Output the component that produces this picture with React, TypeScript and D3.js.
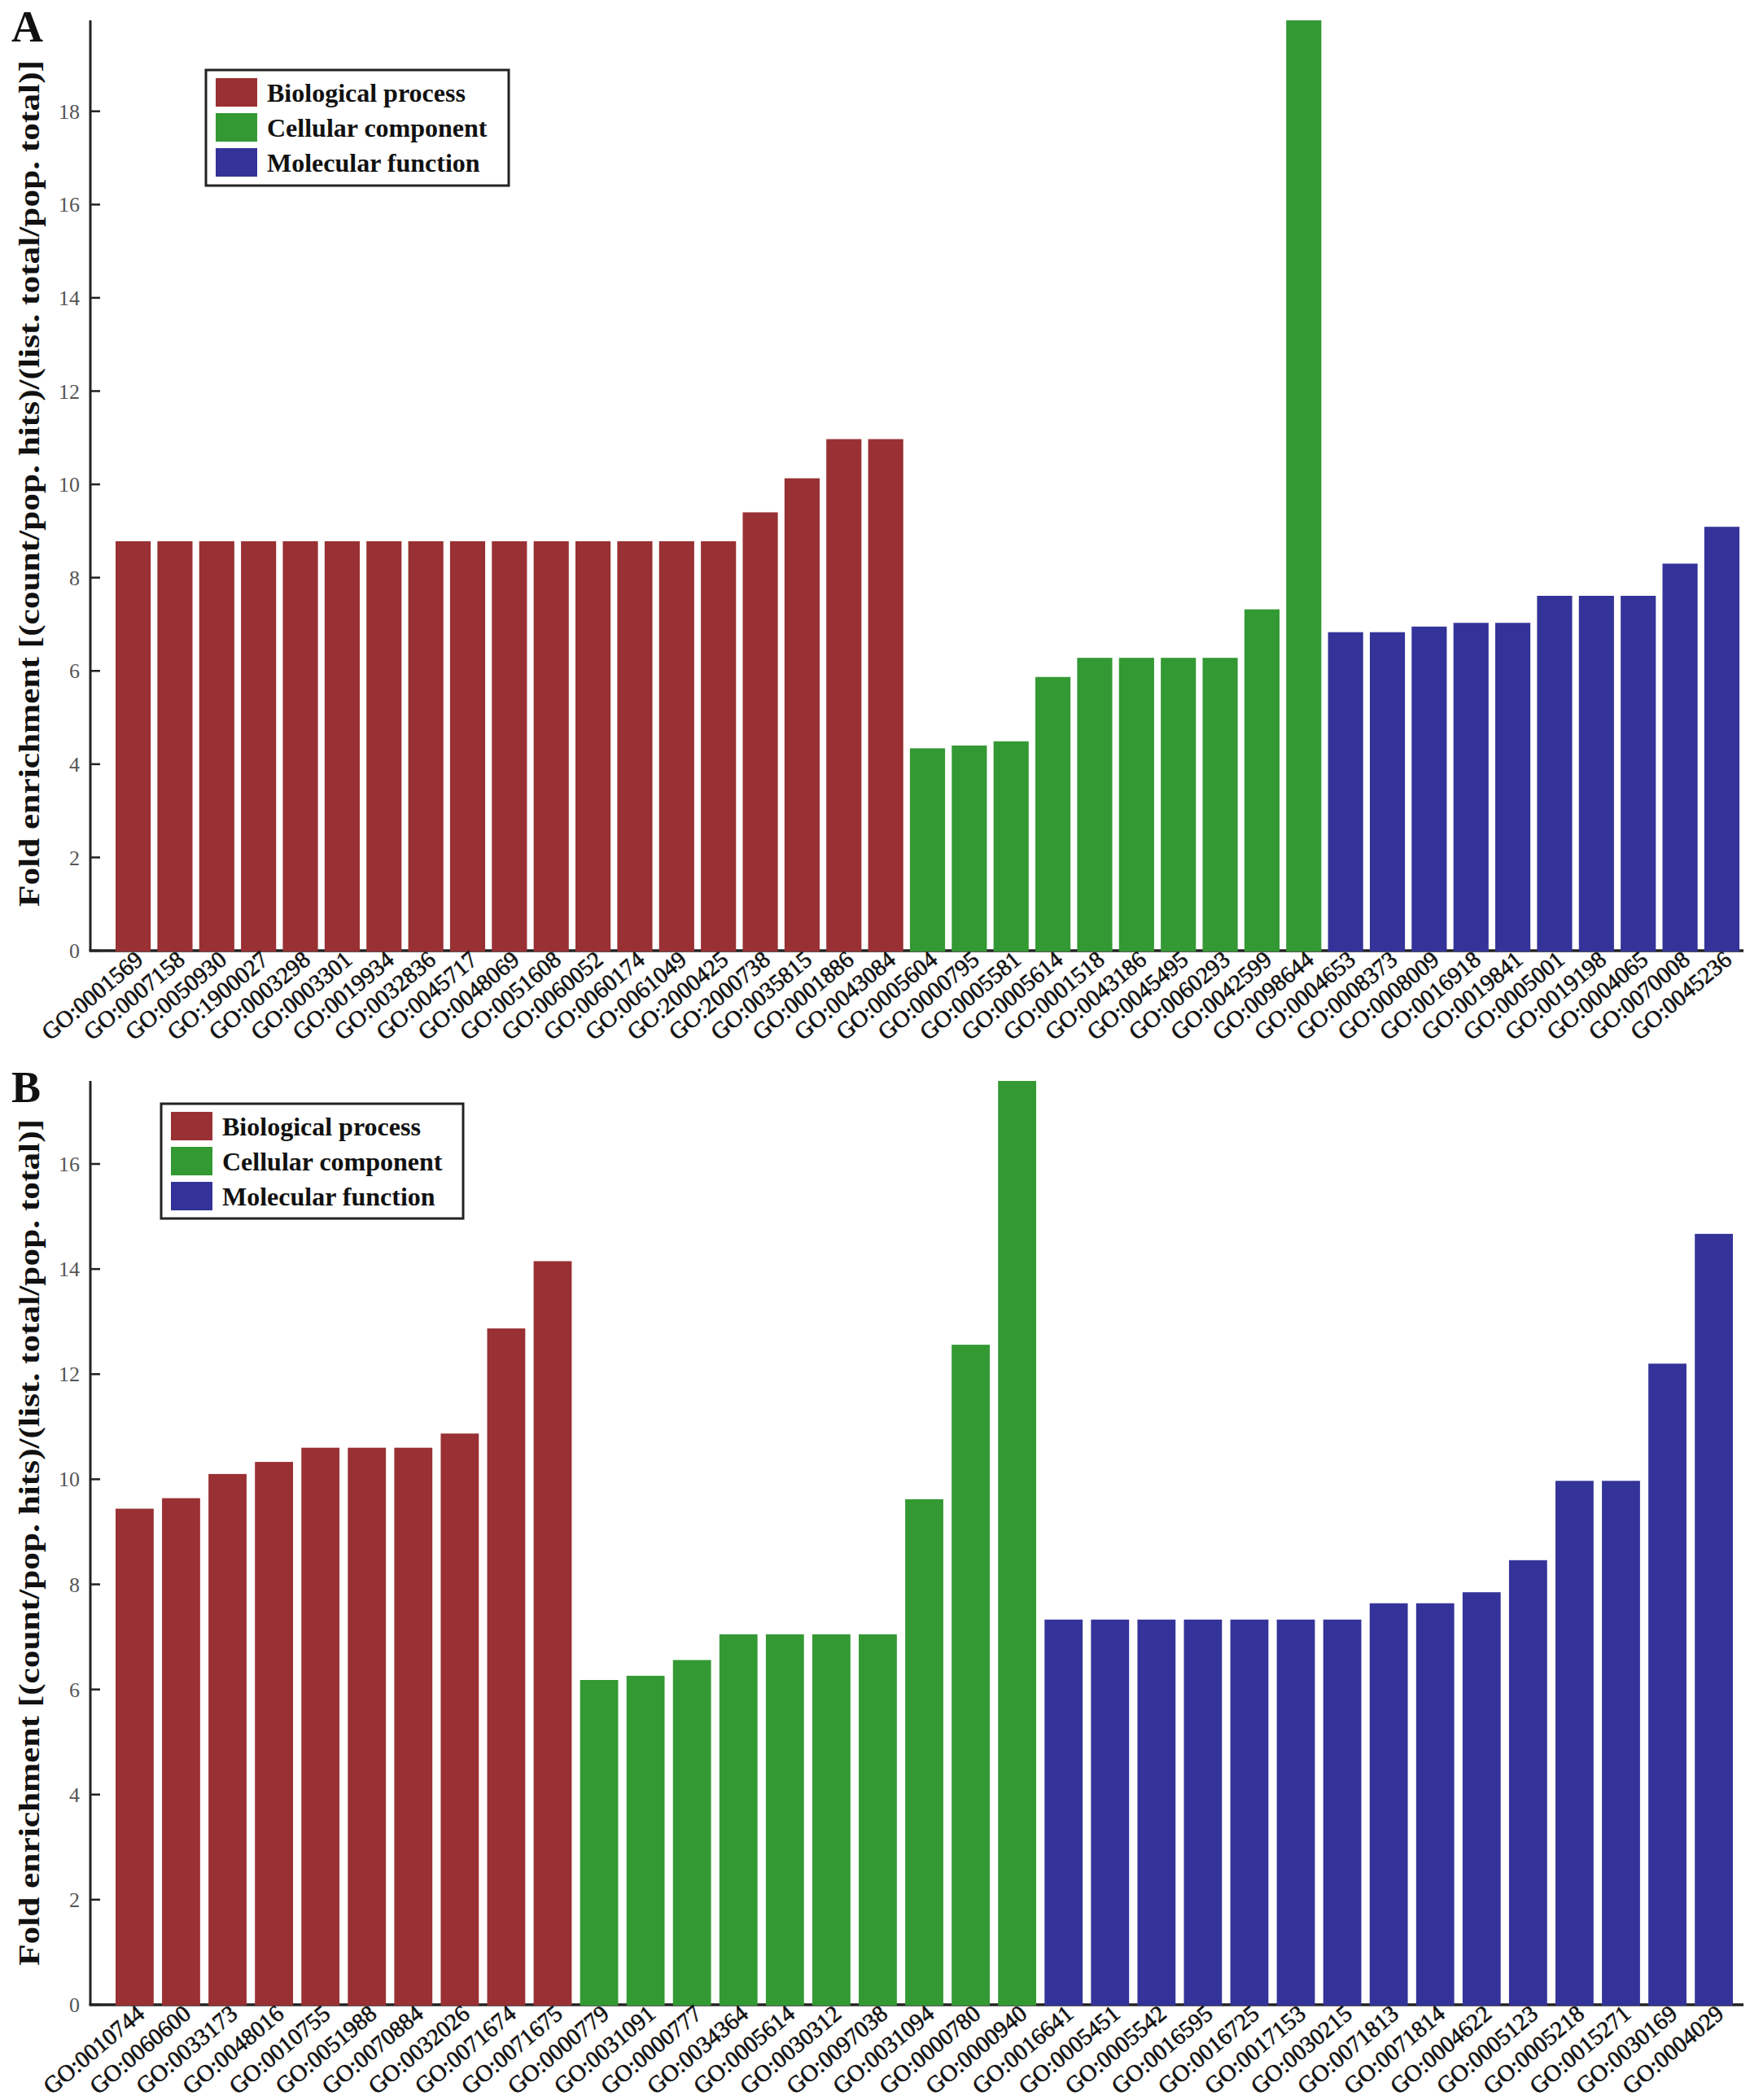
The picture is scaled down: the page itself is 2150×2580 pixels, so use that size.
import React, { useEffect, useRef } from 'react';
import * as d3 from 'd3';

// Panel A
const aBioTerms = ['GO:0001569', 'GO:0007158', 'GO:0050930', 'GO:1900027', 'GO:0003298', 'GO:0003301', 'GO:0019934', 'GO:0032836', 'GO:0045717', 'GO:0048069', 'GO:0051608', 'GO:0060052', 'GO:0060174', 'GO:0061049', 'GO:2000425', 'GO:2000738', 'GO:0035815', 'GO:0001886', 'GO:0043084'];
const aBioValues = [8.78, 8.78, 8.78, 8.78, 8.78, 8.78, 8.78, 8.78, 8.78, 8.78, 8.78, 8.78, 8.78, 8.78, 8.78, 9.4, 10.13, 10.97, 10.97];
const aCellTerms = ['GO:0005604', 'GO:0000795', 'GO:0005581', 'GO:0005614', 'GO:0001518', 'GO:0043186', 'GO:0045495', 'GO:0060293', 'GO:0042599', 'GO:0098644'];
const aCellValues = [4.34, 4.4, 4.49, 5.87, 6.28, 6.28, 6.28, 6.28, 7.32, 19.95];
const aMolTerms = ['GO:0004653', 'GO:0008373', 'GO:0008009', 'GO:0016918', 'GO:0019841', 'GO:0005001', 'GO:0019198', 'GO:0004065', 'GO:0070008', 'GO:0045236'];
const aMolValues = [6.83, 6.83, 6.95, 7.03, 7.03, 7.61, 7.61, 7.61, 8.3, 9.09];
const aTicks = [0, 2, 4, 6, 8, 10, 12, 14, 16, 18];

// Panel B
const bBioTerms = ['GO:0010744', 'GO:0060600', 'GO:0033173', 'GO:0048016', 'GO:0010755', 'GO:0051988', 'GO:0070884', 'GO:0032026', 'GO:0071674', 'GO:0071675'];
const bBioValues = [9.44, 9.64, 10.1, 10.33, 10.6, 10.6, 10.6, 10.87, 12.87, 14.15];
const bCellTerms = ['GO:0000779', 'GO:0031091', 'GO:0000777', 'GO:0034364', 'GO:0005614', 'GO:0030312', 'GO:0097038', 'GO:0031094', 'GO:0000780', 'GO:0000940'];
const bCellValues = [6.18, 6.26, 6.56, 7.05, 7.05, 7.05, 7.05, 9.62, 12.56, 17.58];
const bMolTerms = ['GO:0016641', 'GO:0005451', 'GO:0005542', 'GO:0016595', 'GO:0016725', 'GO:0017153', 'GO:0030215', 'GO:0071813', 'GO:0071814', 'GO:0004622', 'GO:0005123', 'GO:0005218', 'GO:0015271', 'GO:0030169', 'GO:0004029'];
const bMolValues = [7.33, 7.33, 7.33, 7.33, 7.33, 7.33, 7.33, 7.64, 7.64, 7.85, 8.46, 9.97, 9.97, 12.2, 14.67];
const bTicks = [0, 2, 4, 6, 8, 10, 12, 14, 16];

const categories = ['Biological process', 'Cellular component', 'Molecular function'];
const colors = ['#993033', '#339933', '#343399'];
const yTitle = 'Fold enrichment [(count/pop. hits)/(list. total/pop. total)]';

interface Bar {
  term: string;
  value: number;
  cat: number;
}

const toBars = (groups: [string[], number[]][]): Bar[] =>
  groups.flatMap(([terms, vals], cat) => terms.map((term, i) => ({ term, value: vals[i], cat })));

const W = 2150;
const H = 2580;
const FONT = '"Liberation Serif", "Times New Roman", serif';

const App: React.FC = () => {
  const svgRef = useRef<SVGSVGElement>(null);

  useEffect(() => {
    if (!svgRef.current) return;
    const svg = d3.select(svgRef.current);
    svg.selectAll('*').remove();

    const panels = [
      {
        letter: 'A',
        bars: toBars([[aBioTerms, aBioValues], [aCellTerms, aCellValues], [aMolTerms, aMolValues]]),
        ticks: aTicks,
        yMax: 19.95,
        top: 25,
        base: 1168,
        titleY: 594,
        barRange: [142, 2137],
        pad: 0.16,
        legend: { x: 253, y: 86, w: 372, h: 142 },
      },
      {
        letter: 'B',
        bars: toBars([[bBioTerms, bBioValues], [bCellTerms, bCellValues], [bMolTerms, bMolValues]]),
        ticks: bTicks,
        yMax: 17.58,
        top: 1328,
        base: 2463,
        titleY: 1895,
        barRange: [142, 2129],
        pad: 0.18,
        legend: { x: 198, y: 1356, w: 371, h: 141 },
      },
    ];

    const axisX = 111;
    const xRight = 2142;

    panels.forEach(p => {
      const g = svg.append('g');

      const x = d3.scaleBand<string>()
        .domain(p.bars.map(d => d.term))
        .range(p.barRange as [number, number])
        .paddingInner(p.pad)
        .paddingOuter(0);

      const y = d3.scaleLinear()
        .domain([0, p.yMax])
        .range([p.base, p.top]);

      // y axis line + inward ticks
      g.append('line')
        .attr('x1', axisX).attr('x2', axisX)
        .attr('y1', p.top).attr('y2', p.base)
        .attr('stroke', '#222').attr('stroke-width', 3);

      p.ticks.forEach(t => {
        g.append('line')
          .attr('x1', axisX).attr('x2', axisX + 12)
          .attr('y1', y(t)).attr('y2', y(t))
          .attr('stroke', '#222').attr('stroke-width', 2.5);
        g.append('text')
          .attr('x', axisX - 13)
          .attr('y', y(t))
          .attr('dy', '0.35em')
          .attr('text-anchor', 'end')
          .style('font-family', FONT)
          .style('font-size', '26px')
          .attr('fill', '#555')
          .text(t);
      });

      // x axis line (bars are drawn on top of it)
      g.append('line')
        .attr('x1', axisX - 1.5).attr('x2', xRight)
        .attr('y1', p.base).attr('y2', p.base)
        .attr('stroke', '#222').attr('stroke-width', 3.5);

      g.selectAll('rect.bar')
        .data(p.bars)
        .enter().append('rect')
        .attr('class', 'bar')
        .attr('x', d => x(d.term) as number)
        .attr('y', d => y(d.value))
        .attr('width', x.bandwidth())
        .attr('height', d => p.base + 1 - y(d.value))
        .attr('fill', d => colors[d.cat]);

      // rotated category labels
      g.selectAll('text.xlab')
        .data(p.bars)
        .enter().append('text')
        .attr('class', 'xlab')
        .attr('text-anchor', 'end')
        .attr('transform', d => {
          const cx = (x(d.term) as number) + x.bandwidth() / 2 + 14;
          const cy = p.base + 14;
          return `translate(${cx},${cy}) rotate(-40)`;
        })
        .style('font-family', FONT)
        .style('font-size', '29px')
        .attr('fill', '#111')
        .attr('stroke', '#111')
        .attr('stroke-width', 0.6)
        .text(d => d.term);

      // y title
      g.append('text')
        .attr('transform', `translate(48,${p.titleY}) rotate(-90)`)
        .attr('text-anchor', 'middle')
        .attr('textLength', 1040)
        .attr('lengthAdjust', 'spacingAndGlyphs')
        .style('font-family', FONT)
        .style('font-size', '35px')
        .style('font-weight', 'bold')
        .attr('fill', '#111')
        .text(yTitle);

      // panel letter
      g.append('text')
        .attr('x', 14)
        .attr('y', p.top + 26)
        .style('font-family', FONT)
        .style('font-size', '54px')
        .style('font-weight', 'bold')
        .attr('fill', '#111')
        .text(p.letter);

      // legend
      const L = p.legend;
      const leg = g.append('g').attr('transform', `translate(${L.x},${L.y})`);
      leg.append('rect')
        .attr('width', L.w).attr('height', L.h)
        .attr('fill', '#fff')
        .attr('stroke', '#222').attr('stroke-width', 3);
      categories.forEach((c, i) => {
        leg.append('rect')
          .attr('x', 12).attr('y', 10 + i * 43)
          .attr('width', 51).attr('height', 35)
          .attr('fill', colors[i]);
        leg.append('text')
          .attr('x', 75).attr('y', 28 + i * 43)
          .attr('dy', '0.35em')
          .style('font-family', FONT)
          .style('font-size', '32px')
          .style('font-weight', 'bold')
          .attr('fill', '#111')
          .text(c);
      });
    });
  }, []);

  return (
    <svg
      ref={svgRef}
      width={W}
      height={H}
      style={{ position: 'absolute', left: 0, top: 0, background: '#fff' }}
    />
  );
};

export default App;
